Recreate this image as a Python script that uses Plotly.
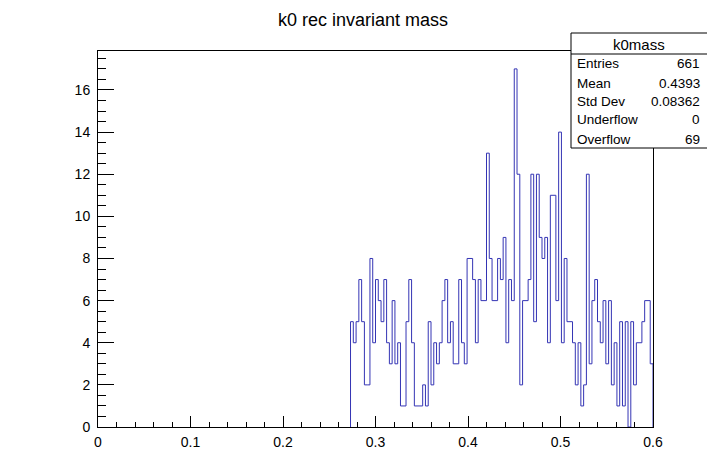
import plotly.graph_objects as go

# ---- data ----
bin_lo = 0.273
bin_width = 0.003
counts = [5, 4, 5, 7, 5, 2, 2, 8, 4, 7, 6, 5, 7, 4, 3, 6, 3, 4,
          1, 1, 5, 7, 4, 1, 1, 1, 2, 1, 5, 2, 4,
          3, 4, 6, 7, 4, 5, 3, 3, 7, 4, 3,
          8, 8, 7, 4, 7, 6, 6,
          13,
          8, 6, 6, 8, 7, 9, 4, 7, 6,
          17,
          12, 2, 6, 6, 7, 12, 5, 12, 9, 8, 9, 4, 11, 11, 6, 14, 4, 8,
          5, 5, 4, 2, 4, 1, 2, 12, 3, 6, 7, 5, 4, 6, 3, 6, 2, 4, 1, 5, 1, 5,
          0, 5, 2, 4, 4, 5, 6, 6, 3]
title = "k0 rec invariant mass"
stats_name = "k0mass"
stats_labels = ["Entries", "Mean", "Std Dev", "Underflow", "Overflow"]
stats_values = ["661", "0.4393", "0.08362", "0", "69"]
x_ticks = [0, 0.1, 0.2, 0.3, 0.4, 0.5, 0.6]
x_ticktext = ["0", "0.1", "0.2", "0.3", "0.4", "0.5", "0.6"]
x_range = [0, 0.6]
y_max = 17.85

# ---- build stair line ----
xs = [bin_lo]
ys = [0]
for i, c in enumerate(counts):
    xs += [bin_lo + i * bin_width, bin_lo + (i + 1) * bin_width]
    ys += [c, c]
xs.append(bin_lo + len(counts) * bin_width)
ys.append(0)

W, H = 707, 471
L, R, T, B = 98, 653, 51, 427

def px(x):
    return (x - L) / (R - L)

def py(y):
    return (B - y) / (B - T)

fig = go.Figure()
fig.add_trace(go.Scatter(x=xs, y=ys, mode="lines",
                         line=dict(color="#3434b4", width=1),
                         hoverinfo="skip", showlegend=False, cliponaxis=True))

font = "Liberation Sans, Arial, Helvetica, sans-serif"
fig.update_layout(
    width=W, height=H,
    margin=dict(l=L, r=W - R, t=T, b=H - B),
    paper_bgcolor="white", plot_bgcolor="white",
    font=dict(family=font, color="black", size=14),
    showlegend=False,
)
fig.update_xaxes(range=x_range, showgrid=False, zeroline=False,
                 showline=True, mirror=True, linecolor="black", linewidth=1,
                 ticks="inside", ticklen=11, tickcolor="black",
                 tickvals=x_ticks, ticktext=x_ticktext,
                 minor=dict(dtick=0.02, tick0=0, ticks="inside", ticklen=5, tickcolor="black"),
                 tickfont=dict(size=14), ticklabelstandoff=2)
fig.update_yaxes(range=[0, y_max], showgrid=False, zeroline=False,
                 showline=True, mirror=True, linecolor="black", linewidth=1,
                 ticks="inside", ticklen=16, tickcolor="black", dtick=2, tick0=0,
                 minor=dict(dtick=0.5, ticks="inside", ticklen=8, tickcolor="black"),
                 tickfont=dict(size=14), ticklabelstandoff=4)

ann = []
ann.append(dict(text=title, x=px(363), y=py(20), xref="paper", yref="paper",
                showarrow=False, font=dict(size=18), xanchor="center", yanchor="middle"))

# stats box
bx0, bx1, by0, by1, bsep = 571, 708, 33, 148, 54
shapes = [
    dict(type="rect", xref="paper", yref="paper", x0=px(bx0), x1=px(bx1),
         y0=py(by1), y1=py(by0), line=dict(color="black", width=1),
         fillcolor="white", layer="above"),
    dict(type="line", xref="paper", yref="paper", x0=px(bx0), x1=px(bx1),
         y0=py(bsep), y1=py(bsep), line=dict(color="black", width=1), layer="above"),
]
ann.append(dict(text=stats_name, x=px(639), y=py(44), xref="paper", yref="paper",
                showarrow=False, font=dict(size=15), xanchor="center", yanchor="middle"))
row_y = [64, 83, 101, 120, 139]
for lab, val, ry in zip(stats_labels, stats_values, row_y):
    ann.append(dict(text=lab, x=px(575), y=py(ry), xref="paper", yref="paper",
                    showarrow=False, font=dict(size=13.5), xanchor="left", yanchor="middle"))
    ann.append(dict(text=val, x=px(702), y=py(ry), xref="paper", yref="paper",
                    showarrow=False, font=dict(size=13.5), xanchor="right", yanchor="middle"))

fig.update_layout(annotations=ann, shapes=shapes)
fig.write_html("out.html")
